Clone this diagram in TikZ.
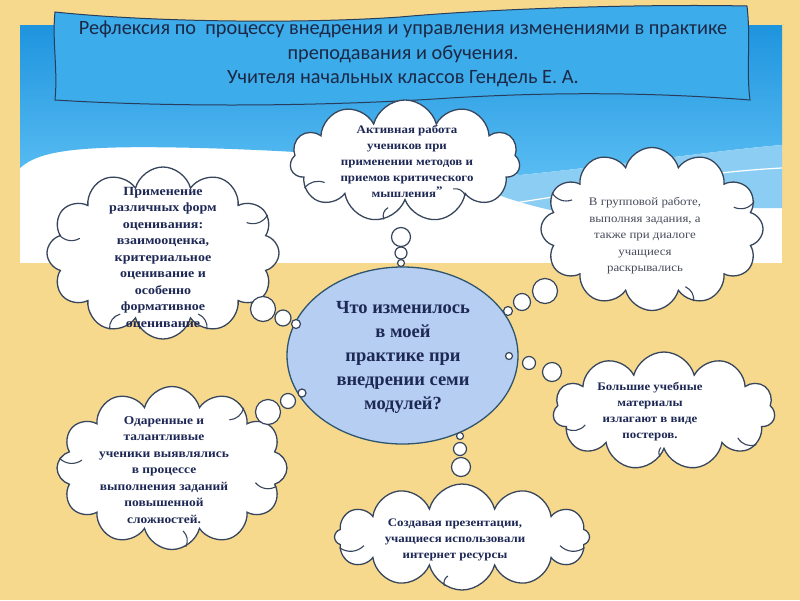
\documentclass[tikz,border=0pt]{standalone}
\usepackage{fontspec}
\setmainfont{Liberation Serif}
\newfontfamily\titlefont{Carlito}
\newfontfamily\cloudfont[FakeStretch=1.12]{Liberation Serif}
\usetikzlibrary{shapes.symbols,shapes.geometric,calc}
\definecolor{bgyellow}{RGB}{247,217,141}
\definecolor{blueT}{RGB}{30,148,222}
\definecolor{blueB}{RGB}{88,188,242}
\definecolor{bannerblue}{RGB}{60,172,234}
\definecolor{lineblue}{RGB}{40,60,92}
\definecolor{cloudline}{RGB}{55,70,92}
\definecolor{navy}{RGB}{30,40,85}
\definecolor{titlenavy}{RGB}{28,40,70}
\definecolor{greytext}{RGB}{70,75,90}
\definecolor{ellfill}{RGB}{182,206,242}
\definecolor{ellline}{RGB}{45,85,112}
\definecolor{bandblue}{RGB}{140,206,243}
\begin{document}
\begin{tikzpicture}[x=1pt,y=-1pt,
  cl/.style={cloud, cloud puffs=#1, cloud ignores aspect, draw=cloudline, fill=white, line width=1.3pt, inner sep=0pt},
  bub/.style={circle, draw=cloudline, fill=white, line width=1.2pt, inner sep=0pt},
  inarc/.style={draw=cloudline, line width=1.1pt},
  ctext/.style={align=center, text=navy, font=\cloudfont\bfseries\fontsize{11.5}{16}\selectfont}]
\useasboundingbox (0,0) rectangle (800,600);
% background
\fill[bgyellow] (0,0) rectangle (800,600);
\fill[white] (20,25) rectangle (782,263);
\shade[top color=blueT, bottom color=blueB] (20,25) -- (782,25) -- (782,145)
  .. controls (720,150) and (620,165) .. (520,175)
  .. controls (450,165) and (350,152) .. (200,148)
  .. controls (80,145) and (40,150) .. (20,168) -- cycle;
\fill[bandblue] (430,164) .. controls (470,169) and (500,173) .. (520,175)
  .. controls (620,165) and (720,150) .. (782,145) -- (782,208)
  .. controls (700,208) and (600,210) .. (560,212)
  .. controls (500,200) and (460,180) .. (430,164) -- cycle;
\draw[white, line width=1.2pt] (495,206) .. controls (600,190) and (700,172) .. (782,168);
% banner
\draw[lineblue, fill=bannerblue, line width=1pt] (55,12) .. controls (150,22) and (300,24) .. (400,17)
  .. controls (500,8) and (650,4) .. (747,6)
  .. controls (751,40) and (746,70) .. (750,100)
  .. controls (650,92) and (550,92) .. (450,98)
  .. controls (300,108) and (150,106) .. (55,100)
  .. controls (58,70) and (52,40) .. (55,12) -- cycle;
\node[align=center, text=titlenavy, font=\titlefont\fontsize{20.3}{24.5}\selectfont] (title) at (403,54)
  {Рефлексия по \ процессу внедрения и управления изменениями в практике\\
   преподавания и обучения.\\
   Учителя начальных классов Гендель Е. А.};
% centre
\node[ellipse, draw=ellline, fill=ellfill, line width=1.3pt, minimum width=231, minimum height=177, inner sep=0pt] (centre) at (402.5,355.5) {};
\node[align=center, text=navy, font=\bfseries\fontsize{18.5}{24}\selectfont] (ctitle) at (403,357)
  {Что изменилось\\в моей\\практике при\\внедрении семи\\модулей?};
% clouds
\node[cl=11, minimum width=230, minimum height=122] (c1) at (405,161) {};
\node[cl=12, minimum width=232, minimum height=172] (c2) at (163,253) {};
\node[cl=12, minimum width=222, minimum height=163] (c3) at (652,229) {};
\node[cl=11, minimum width=222, minimum height=118] (c4) at (664,411) {};
\node[cl=12, minimum width=230, minimum height=163] (c5) at (172,468) {};
\node[cl=12, minimum width=255, minimum height=106] (c6) at (462,537) {};
% inner strokes of the clouds
\foreach \c/\a/\b in {c1/195/35, c1/330/-40, c1/250/40, c2/170/-40, c2/20/40, c2/300/-35, c2/235/40,
                      c3/160/-40, c3/15/40, c3/300/-35, c4/190/-40, c4/340/40, c4/265/35,
                      c5/175/-40, c5/350/40, c5/280/-35, c5/40/35, c6/185/-40, c6/355/40, c6/250/35}
  \draw[inarc] (\c.\a) to[bend left=\b] ($(\c.\a)!0.2!(\c.center)$);
% bubbles
\node[bub, minimum size=19] (b11) at (401,237) {};
\node[bub, minimum size=12] (b12) at (401,253) {};
\node[bub, minimum size=7] (b13) at (401,263) {};
\node[bub, minimum size=25] (b21) at (263,309) {};
\node[bub, minimum size=16] (b22) at (283,318) {};
\node[bub, minimum size=9] (b23) at (296,324) {};
\node[bub, minimum size=25] (b31) at (545,291) {};
\node[bub, minimum size=17] (b32) at (522,302) {};
\node[bub, minimum size=9] (b33) at (508,311) {};
\node[bub, minimum size=7] (b41) at (509,356) {};
\node[bub, minimum size=13] (b42) at (529,363) {};
\node[bub, minimum size=19] (b43) at (552,372) {};
\node[bub, minimum size=8] (b51) at (302,393) {};
\node[bub, minimum size=15] (b52) at (288,401) {};
\node[bub, minimum size=25] (b53) at (268,412) {};
\node[bub, minimum size=7] (b61) at (460,436) {};
\node[bub, minimum size=13] (b62) at (460,449) {};
\node[bub, minimum size=19] (b63) at (461,467) {};
% cloud texts
\node[ctext] (t1) at (407,161) {Активная работа\\учеников при\\применении методов и\\приемов критического\\мышления\raisebox{3pt}{”}};
\node[ctext, font=\cloudfont\bfseries\fontsize{12.5}{16.5}\selectfont] (t2) at (163,258) {Применение\\различных форм\\оценивания:\\взаимооценка,\\критериальное\\оценивание и\\особенно\\формативное\\оценивание};
\node[ctext, text=greytext, font=\cloudfont\fontsize{11.5}{16.5}\selectfont] (t3) at (645,236) {В групповой работе,\\выполняя задания, а\\также при диалоге\\учащиеся\\раскрывались};
\node[ctext] (t4) at (650,412) {Большие учебные\\материалы\\излагают в виде\\постеров.};
\node[ctext, font=\cloudfont\bfseries\fontsize{12}{16.5}\selectfont] (t5) at (164,470) {Одаренные и\\талантливые\\ученики выявлялись\\в процессе\\выполнения заданий\\повышенной\\сложностей.};
\node[ctext] (t6) at (455,540) {Создавая презентации,\\учащиеся использовали\\интернет ресурсы};
\end{tikzpicture}
\end{document}
